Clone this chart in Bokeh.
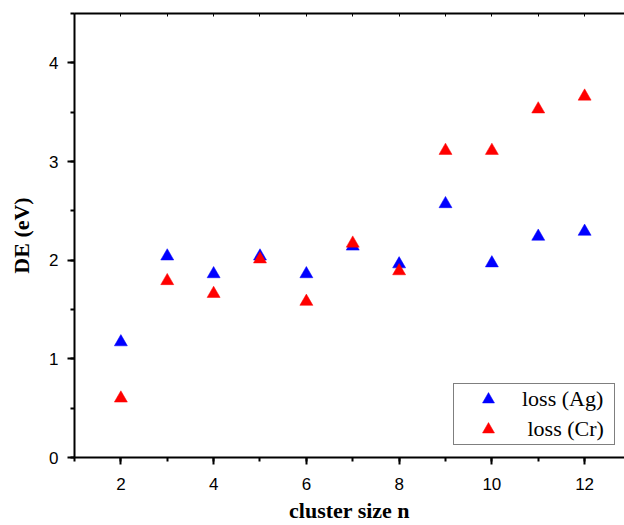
from bokeh.plotting import figure
from bokeh.models import (LinearAxis, SingleIntervalTicker, Legend, LegendItem,
                          Range1d, ColumnDataSource, CustomJSTickFormatter)
from bokeh.embed import file_html
from bokeh.resources import INLINE

# data
n_values = [2, 3, 4, 5, 6, 7, 8, 9, 10, 11, 12]
loss_ag = [1.17, 2.04, 1.86, 2.04, 1.86, 2.14, 1.96, 2.57, 1.97, 2.24, 2.29]
loss_cr = [0.60, 1.79, 1.66, 2.01, 1.58, 2.17, 1.89, 3.11, 3.11, 3.53, 3.66]
label_ag = "loss (Ag)"
label_cr = "\u00a0loss (Cr)"
x_label = "cluster size n"
y_label = "DE (eV)"

p = figure(width=624, height=525, output_backend="svg", toolbar_location=None,
           x_range=Range1d(1, 12.86), y_range=Range1d(0, 4.5),
           min_border_left=74, min_border_right=0, min_border_top=13,
           min_border_bottom=68, x_axis_location=None, y_axis_location=None)
p.grid.visible = False
p.outline_line_color = None
p.background_fill_color = "white"
p.border_fill_color = "white"

sans = "Liberation Sans"
serif = "Liberation Serif"

xaxis = LinearAxis(ticker=SingleIntervalTicker(interval=2, num_minor_ticks=2),
                   axis_label=x_label)
yaxis = LinearAxis(ticker=SingleIntervalTicker(interval=1, num_minor_ticks=2),
                   axis_label=y_label)
for ax in (xaxis, yaxis):
    ax.axis_line_width = 2
    ax.axis_line_color = "black"
    ax.major_tick_line_width = 2
    ax.minor_tick_line_width = 2
    ax.major_tick_out = 7
    ax.major_tick_in = 0
    ax.minor_tick_out = 4
    ax.minor_tick_in = 0
    ax.major_label_text_font = sans
    ax.major_label_text_font_size = "17px"
    ax.major_label_text_color = "black"
    ax.axis_label_text_font = serif
    ax.axis_label_text_font_style = "bold"
    ax.axis_label_text_font_size = "22px"
    ax.axis_label_text_color = "black"
xaxis.major_label_standoff = 13
xaxis.axis_label_standoff = 5
yaxis.major_label_standoff = 9
yaxis.axis_label_standoff = 12
p.add_layout(xaxis, "below")
p.add_layout(yaxis, "left")

top = LinearAxis(ticker=SingleIntervalTicker(interval=1, num_minor_ticks=0),
                 formatter=CustomJSTickFormatter(code="return ''"))
top.axis_line_width = 2
top.axis_line_color = "black"
top.major_tick_in = 3
top.major_tick_out = 0
top.major_tick_line_width = 1
top.minor_tick_line_color = None
top.major_label_standoff = 0
p.add_layout(top, "above")

src = ColumnDataSource(dict(n=n_values, ag=loss_ag, cr=loss_cr))
r_ag = p.scatter("n", "ag", source=src, marker="triangle", size=13,
                 fill_color="#0000ff", line_color="#0000ff", line_width=0.5)
r_cr = p.scatter("n", "cr", source=src, marker="triangle", size=13,
                 fill_color="#ff0000", line_color="#ff0000", line_width=0.5)

legend = Legend(items=[LegendItem(label=label_ag, renderers=[r_ag]),
                       LegendItem(label=label_cr, renderers=[r_cr])],
                location=(379, 12))
legend.border_line_color = "black"
legend.border_line_width = 1
legend.background_fill_alpha = 1
legend.padding = 0
legend.spacing = 0
legend.margin = 0
legend.glyph_width = 68
legend.glyph_height = 30
legend.label_height = 22
legend.label_width = 92
legend.label_standoff = 0
legend.label_text_font = serif
legend.label_text_font_size = "22px"
legend.label_text_color = "black"
p.add_layout(legend, "center")

open("out.html", "w").write(file_html(p, INLINE))
